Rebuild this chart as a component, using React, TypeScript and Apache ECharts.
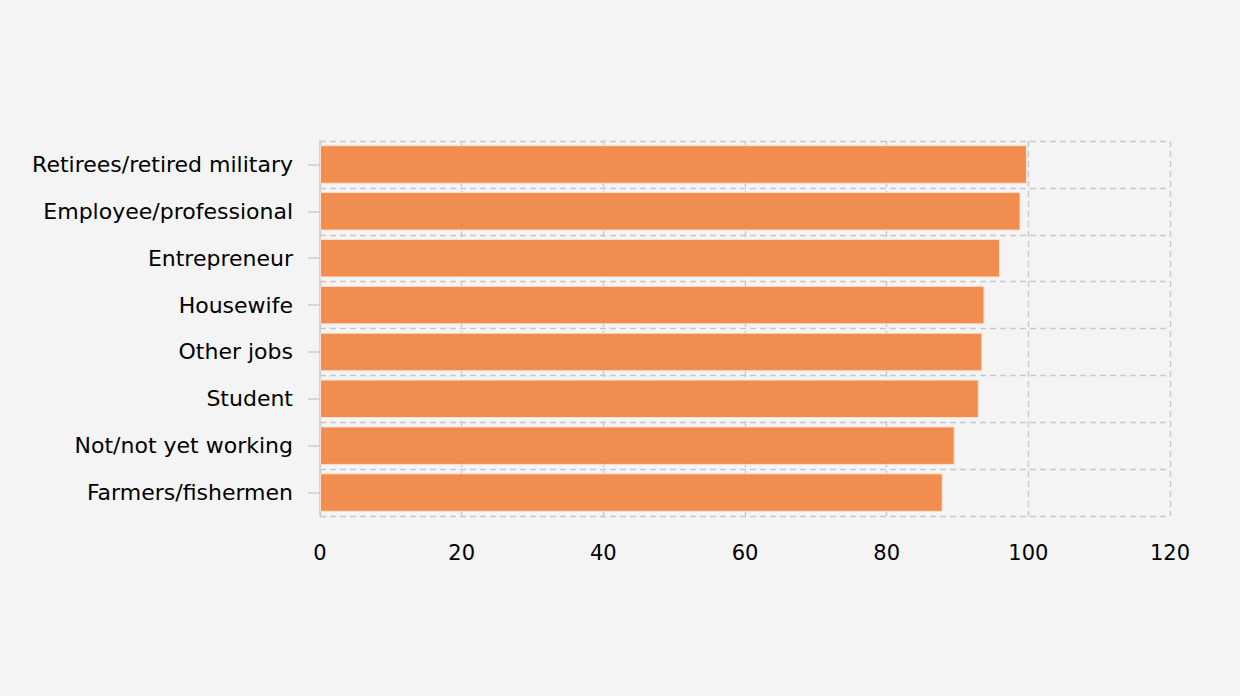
import React, { useEffect, useRef } from "react";
import * as echarts from "echarts";

const categories = [
  "Retirees/retired military",
  "Employee/professional",
  "Entrepreneur",
  "Housewife",
  "Other jobs",
  "Student",
  "Not/not yet working",
  "Farmers/fishermen",
];
const values = [99.8, 98.9, 96.0, 93.8, 93.5, 93.0, 89.6, 87.9];
const xTicks = { min: 0, max: 120, interval: 20 };

export default function App() {
  const ref = useRef<HTMLDivElement>(null);
  useEffect(() => {
    document.body.style.margin = "0";
    if (!ref.current) return;
    const chart = echarts.init(ref.current, undefined, { renderer: "svg" });
    const font = "DejaVu Sans";
    chart.setOption({
      animation: false,
      backgroundColor: "#f4f4f4",
      textStyle: { fontFamily: font },
      grid: { left: 320, right: 70, top: 141, bottom: 180 },
      xAxis: {
        type: "value",
        min: xTicks.min,
        max: xTicks.max,
        interval: xTicks.interval,
        axisLine: { show: false },
        axisTick: { show: false },
        axisLabel: { color: "#000", fontSize: 21, margin: 26, fontFamily: font },
        splitLine: { show: true, lineStyle: { color: "#c8c8c8", type: [6, 4], width: 1.4 } },
      },
      yAxis: {
        type: "category",
        data: categories,
        inverse: true,
        axisLine: { show: true, lineStyle: { color: "#cccccc", width: 1.5 } },
        axisTick: { show: true, alignWithLabel: true, length: 12, lineStyle: { color: "#cccccc", width: 1.5 } },
        axisLabel: { color: "#000", fontSize: 22, margin: 27, fontFamily: font },
        splitLine: { show: true, lineStyle: { color: "#c8c8c8", type: [6, 4], width: 1.4 } },
      },
      series: [
        {
          type: "bar",
          data: values,
          barCategoryGap: "18%",
          itemStyle: {
            color: "#F2823E",
            opacity: 0.9,
            borderColor: "#fde3d2",
            borderWidth: 1,
          },
        },
      ],
    });
    return () => chart.dispose();
  }, []);
  return <div ref={ref} style={{ width: 1240, height: 696 }} />;
}
